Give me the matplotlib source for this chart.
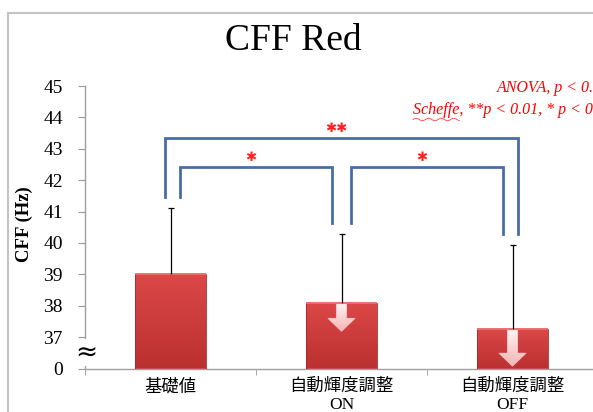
import numpy as np
import matplotlib
matplotlib.use('Agg')
import matplotlib.pyplot as plt
from matplotlib.colors import LinearSegmentedColormap
from matplotlib.patches import Polygon, Rectangle
from matplotlib.lines import Line2D

plt.rcParams['font.family'] = ['Liberation Serif', 'Noto Sans CJK JP']

# CFF (red light), mean and SD per condition
conditions = ['基礎値', '自動輝度調整\nON', '自動輝度調整\nOFF']
cff_mean = [39.0, 38.1, 37.27]
cff_sd = [2.1, 2.18, 2.67]

# axis is broken below 37: the lowest tick stands for 0
y_ticks = [36, 37, 38, 39, 40, 41, 42, 43, 44, 45]
y_tick_labels = ['0', '37', '38', '39', '40', '41', '42', '43', '44', '45']

# Scheffe comparisons: (left bar, right bar, marker)
pairs = [(0, 2, '✱✱'), (0, 1, '✱'), (1, 2, '✱')]
pair_level = [43.34, 42.43, 42.43]

# length of the "decrease" arrow drawn inside each bar (0 = none)
arrow_len = [0, 0.87, 1.15]

BASE = 36
BAR_W = 0.41
BLUE = '#4a6ca6'


def gradient_fill(ax, patch, extent, c_top, c_bottom, z):
    cmap = LinearSegmentedColormap.from_list('g', [c_bottom, c_top])
    grad = np.linspace(0, 1, 64).reshape(-1, 1)
    im = ax.imshow(grad, extent=extent, origin='lower', cmap=cmap,
                   aspect='auto', interpolation='bicubic', zorder=z)
    im.set_clip_path(patch)
    return im


fig = plt.figure(figsize=(5.93, 4.12), dpi=100)
ax = fig.add_axes([85 / 593, 43.5 / 412, 513 / 593, 282.5 / 412])

# light frame around the slide area
fig.add_artist(Rectangle((8 / 593, -0.2), 1.2, 0.2 + (1 - 13 / 412),
                         transform=fig.transFigure, fill=False,
                         edgecolor='#c4c4c4', lw=1.5))

x = np.arange(len(conditions))
heights = np.array(cff_mean) - BASE
bars = ax.bar(x, heights, BAR_W, bottom=BASE, color='#cf3c3c',
              edgecolor='none', zorder=2)
for b in bars:
    ext = (b.get_x(), b.get_x() + b.get_width(), b.get_y(), b.get_y() + b.get_height())
    gradient_fill(ax, b, ext, '#dc4848', '#bb3030', 2.5)
ax.bar(x, heights, BAR_W, bottom=BASE, fill=False, edgecolor='#a52a2a',
       lw=0.6, zorder=3)
ax.hlines(cff_mean, x - BAR_W / 2, x + BAR_W / 2, color='#ea7070', lw=1.4, zorder=3.2)

# upper error bars only
_, caps, _ = ax.errorbar(x, cff_mean, yerr=[np.zeros(len(x)), cff_sd], fmt='none',
                         ecolor='black', elinewidth=0.9, capsize=2, capthick=0.9,
                         zorder=4)
caps[0].set_visible(False)

# white down arrows inside the bars
sw, hw = 0.03, 0.08
for xi, top, L in zip(x, cff_mean, arrow_len):
    if L <= 0:
        continue
    t = top - 0.05
    h = 0.42
    verts = [(xi - sw, t), (xi + sw, t), (xi + sw, t - L + h), (xi + hw, t - L + h),
             (xi, t - L), (xi - hw, t - L + h), (xi - sw, t - L + h)]
    arr = Polygon(verts, closed=True, facecolor='#fbd8d8', edgecolor='#e79a9a',
                  lw=0.6, zorder=5)
    ax.add_patch(arr)
    gradient_fill(ax, arr, (xi - hw, xi + hw, t - L, t), '#fff4f4', '#f6b4b4', 5.1)

# significance brackets
err_top = np.array(cff_mean) + np.array(cff_sd)
gap = 0.35
for (a, b, mark), lvl in zip(pairs, pair_level):
    outer = (b - a) > 1
    off = -0.03 if outer else 0.055
    xa, xb = a + off, b - off
    ax.plot([xa, xa, xb, xb], [err_top[a] + gap, lvl, lvl, err_top[b] + gap],
            color=BLUE, lw=2, solid_joinstyle='miter', zorder=6)
    ax.text((xa + xb) / 2 - 0.03, lvl + 0.3, mark, color='#ff2020', fontsize=9.5,
            ha='center', va='center', family='DejaVu Sans', zorder=6)

ax.set_xlim(-0.5, 2.5)
ax.set_ylim(BASE, 45)
ax.set_yticks(y_ticks)
ax.set_yticklabels(y_tick_labels)
ax.set_xticks(x)
ax.set_xticklabels(conditions, fontsize=12.5, linespacing=1.12)
ax.set_xticks([-0.5, 0.5, 1.5, 2.5], minor=True)
ax.tick_params(axis='x', which='major', length=0, pad=7.5)
ax.tick_params(axis='x', which='minor', length=4, color='#9a9a9a', direction='out')
ax.tick_params(axis='y', length=5, color='#9a9a9a', labelsize=14, pad=11)

for s in ['top', 'right']:
    ax.spines[s].set_visible(False)
for s in ['left', 'bottom']:
    ax.spines[s].set_color('#a0a0a0')
    ax.spines[s].set_linewidth(1)

# axis break mark
ax.text(-0.49, 36.5, '≈', ha='center', va='center', fontsize=19,
        family='DejaVu Sans', clip_on=False, zorder=7,
        bbox=dict(facecolor='white', edgecolor='none', pad=0.3))

ax.set_ylabel('CFF (Hz)', fontsize=13.5, fontweight='bold')
ax.yaxis.set_label_coords(-0.101, 0.51)

fig.text(0.494, 1 - 41 / 412, 'CFF Red', ha='center', va='center', fontsize=27)

# statistics note
note_kw = dict(color='#ff0000', fontsize=11.5, style='italic', ha='left', va='center')
fig.text(497 / 593, 1 - 88 / 412, 'ANOVA, p < 0.01', **note_kw)
x0, y0 = 413 / 593, 1 - 110 / 412
fig.text(x0, y0, 'Scheffe, **p < 0.01, * p < 0.05', **note_kw)

# wavy spell-check line under "Scheffe"
fig.canvas.draw()
probe = fig.text(x0, y0, 'Scheffe', **note_kw)
w = probe.get_window_extent(fig.canvas.get_renderer()).width / 593
probe.remove()
wx = np.linspace(x0, x0 + w, 80)
wy = (y0 - 9.5 / 412) + (1.2 / 412) * np.sin((wx - x0) * 593 / 2.0)
fig.add_artist(Line2D(wx, wy, transform=fig.transFigure, color='#ff4040', lw=0.6))

fig.savefig('out.png', dpi=100)
